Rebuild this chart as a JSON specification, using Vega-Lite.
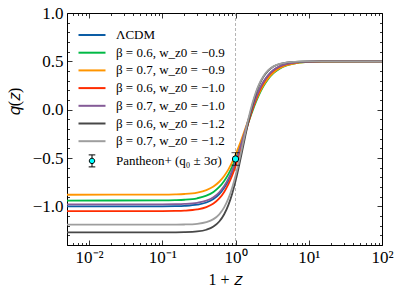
{
  "$schema": "https://vega.github.io/schema/vega-lite/v6.json",
  "width": 315,
  "height": 232,
  "autosize": {"type": "none"},
  "padding": {"left": 67, "top": 13, "right": 17, "bottom": 48},
  "background": "white",
  "config": {
    "view": {"stroke": "#000", "strokeWidth": 1},
    "font": "Liberation Serif",
    "axis": {"domain": false, "grid": false, "labelFont": "Liberation Serif", "labelFontSize": 17, "labelColor": "#000", "tickColor": "#000", "tickWidth": 0.8, "titleFont": "Liberation Serif", "titleFontSize": 16, "titleFontWeight": "normal", "titleColor": "#000", "labelFlush": false, "labelOverlap": false}
  },
  "datasets": {
    "curves": [
      {"x":0.005,"q":-1.0,"s":"LCDM"},{"x":0.1,"q":-0.9994,"s":"LCDM"},{"x":0.15,"q":-0.9978,"s":"LCDM"},{"x":0.2,"q":-0.9949,"s":"LCDM"},{"x":0.3,"q":-0.9828,"s":"LCDM"},{"x":0.4,"q":-0.96,"s":"LCDM"},{"x":0.5,"q":-0.9237,"s":"LCDM"},{"x":0.6,"q":-0.8729,"s":"LCDM"},{"x":0.7,"q":-0.8078,"s":"LCDM"},{"x":0.8,"q":-0.7301,"s":"LCDM"},{"x":0.9,"q":-0.6429,"s":"LCDM"},{"x":1.0,"q":-0.55,"s":"LCDM"},{"x":1.1,"q":-0.4551,"s":"LCDM"},{"x":1.2,"q":-0.3618,"s":"LCDM"},{"x":1.35,"q":-0.2301,"s":"LCDM"},{"x":1.5,"q":-0.1131,"s":"LCDM"},{"x":1.7,"q":0.017,"s":"LCDM"},{"x":1.9,"q":0.1193,"s":"LCDM"},{"x":2.1,"q":0.1981,"s":"LCDM"},{"x":2.4,"q":0.2834,"s":"LCDM"},{"x":2.8,"q":0.3559,"s":"LCDM"},{"x":3.3,"q":0.4085,"s":"LCDM"},{"x":4,"q":0.4472,"s":"LCDM"},{"x":5,"q":0.4725,"s":"LCDM"},{"x":6.5,"q":0.4874,"s":"LCDM"},{"x":9,"q":0.4952,"s":"LCDM"},{"x":15,"q":0.499,"s":"LCDM"},{"x":100,"q":0.5,"s":"LCDM"},
      {"x":0.005,"q":-0.94,"s":"b06w09"},{"x":0.1,"q":-0.9388,"s":"b06w09"},{"x":0.15,"q":-0.9363,"s":"b06w09"},{"x":0.2,"q":-0.932,"s":"b06w09"},{"x":0.3,"q":-0.9165,"s":"b06w09"},{"x":0.4,"q":-0.8898,"s":"b06w09"},{"x":0.5,"q":-0.851,"s":"b06w09"},{"x":0.6,"q":-0.7999,"s":"b06w09"},{"x":0.7,"q":-0.7376,"s":"b06w09"},{"x":0.8,"q":-0.6665,"s":"b06w09"},{"x":0.9,"q":-0.589,"s":"b06w09"},{"x":1.0,"q":-0.508,"s":"b06w09"},{"x":1.1,"q":-0.4264,"s":"b06w09"},{"x":1.2,"q":-0.3465,"s":"b06w09"},{"x":1.35,"q":-0.2334,"s":"b06w09"},{"x":1.5,"q":-0.1313,"s":"b06w09"},{"x":1.7,"q":-0.0152,"s":"b06w09"},{"x":1.9,"q":0.0797,"s":"b06w09"},{"x":2.1,"q":0.1552,"s":"b06w09"},{"x":2.4,"q":0.2408,"s":"b06w09"},{"x":2.8,"q":0.3179,"s":"b06w09"},{"x":3.3,"q":0.3776,"s":"b06w09"},{"x":4,"q":0.4246,"s":"b06w09"},{"x":5,"q":0.4577,"s":"b06w09"},{"x":6.5,"q":0.4789,"s":"b06w09"},{"x":9,"q":0.4911,"s":"b06w09"},{"x":15,"q":0.4978,"s":"b06w09"},{"x":100,"q":0.5,"s":"b06w09"},
      {"x":0.005,"q":-0.88,"s":"b07w09"},{"x":0.1,"q":-0.8788,"s":"b07w09"},{"x":0.15,"q":-0.8765,"s":"b07w09"},{"x":0.2,"q":-0.8724,"s":"b07w09"},{"x":0.3,"q":-0.8575,"s":"b07w09"},{"x":0.4,"q":-0.8319,"s":"b07w09"},{"x":0.5,"q":-0.7947,"s":"b07w09"},{"x":0.6,"q":-0.7457,"s":"b07w09"},{"x":0.7,"q":-0.6861,"s":"b07w09"},{"x":0.8,"q":-0.6179,"s":"b07w09"},{"x":0.9,"q":-0.5436,"s":"b07w09"},{"x":1.0,"q":-0.466,"s":"b07w09"},{"x":1.1,"q":-0.3878,"s":"b07w09"},{"x":1.2,"q":-0.3112,"s":"b07w09"},{"x":1.35,"q":-0.2029,"s":"b07w09"},{"x":1.5,"q":-0.105,"s":"b07w09"},{"x":1.7,"q":0.0063,"s":"b07w09"},{"x":1.9,"q":0.0972,"s":"b07w09"},{"x":2.1,"q":0.1695,"s":"b07w09"},{"x":2.4,"q":0.2516,"s":"b07w09"},{"x":2.8,"q":0.3255,"s":"b07w09"},{"x":3.3,"q":0.3827,"s":"b07w09"},{"x":4,"q":0.4278,"s":"b07w09"},{"x":5,"q":0.4595,"s":"b07w09"},{"x":6.5,"q":0.4797,"s":"b07w09"},{"x":9,"q":0.4915,"s":"b07w09"},{"x":15,"q":0.4979,"s":"b07w09"},{"x":100,"q":0.5,"s":"b07w09"},
      {"x":0.005,"q":-1.05,"s":"b06w10"},{"x":0.1,"q":-1.0493,"s":"b06w10"},{"x":0.15,"q":-1.0478,"s":"b06w10"},{"x":0.2,"q":-1.0447,"s":"b06w10"},{"x":0.3,"q":-1.0323,"s":"b06w10"},{"x":0.4,"q":-1.0086,"s":"b06w10"},{"x":0.5,"q":-0.9712,"s":"b06w10"},{"x":0.6,"q":-0.9187,"s":"b06w10"},{"x":0.7,"q":-0.8514,"s":"b06w10"},{"x":0.8,"q":-0.7711,"s":"b06w10"},{"x":0.9,"q":-0.681,"s":"b06w10"},{"x":1.0,"q":-0.585,"s":"b06w10"},{"x":1.1,"q":-0.487,"s":"b06w10"},{"x":1.2,"q":-0.3905,"s":"b06w10"},{"x":1.35,"q":-0.2544,"s":"b06w10"},{"x":1.5,"q":-0.1336,"s":"b06w10"},{"x":1.7,"q":0.0009,"s":"b06w10"},{"x":1.9,"q":0.1066,"s":"b06w10"},{"x":2.1,"q":0.1881,"s":"b06w10"},{"x":2.4,"q":0.2762,"s":"b06w10"},{"x":2.8,"q":0.3511,"s":"b06w10"},{"x":3.3,"q":0.4055,"s":"b06w10"},{"x":4,"q":0.4455,"s":"b06w10"},{"x":5,"q":0.4716,"s":"b06w10"},{"x":6.5,"q":0.4869,"s":"b06w10"},{"x":9,"q":0.4951,"s":"b06w10"},{"x":15,"q":0.4989,"s":"b06w10"},{"x":100,"q":0.5,"s":"b06w10"},
      {"x":0.005,"q":-0.98,"s":"b07w10"},{"x":0.1,"q":-0.9794,"s":"b07w10"},{"x":0.15,"q":-0.9779,"s":"b07w10"},{"x":0.2,"q":-0.9749,"s":"b07w10"},{"x":0.3,"q":-0.9631,"s":"b07w10"},{"x":0.4,"q":-0.9405,"s":"b07w10"},{"x":0.5,"q":-0.9048,"s":"b07w10"},{"x":0.6,"q":-0.8546,"s":"b07w10"},{"x":0.7,"q":-0.7903,"s":"b07w10"},{"x":0.8,"q":-0.7137,"s":"b07w10"},{"x":0.9,"q":-0.6277,"s":"b07w10"},{"x":1.0,"q":-0.536,"s":"b07w10"},{"x":1.1,"q":-0.4424,"s":"b07w10"},{"x":1.2,"q":-0.3503,"s":"b07w10"},{"x":1.35,"q":-0.2204,"s":"b07w10"},{"x":1.5,"q":-0.105,"s":"b07w10"},{"x":1.7,"q":0.0235,"s":"b07w10"},{"x":1.9,"q":0.1243,"s":"b07w10"},{"x":2.1,"q":0.2022,"s":"b07w10"},{"x":2.4,"q":0.2863,"s":"b07w10"},{"x":2.8,"q":0.3578,"s":"b07w10"},{"x":3.3,"q":0.4098,"s":"b07w10"},{"x":4,"q":0.4479,"s":"b07w10"},{"x":5,"q":0.4729,"s":"b07w10"},{"x":6.5,"q":0.4875,"s":"b07w10"},{"x":9,"q":0.4953,"s":"b07w10"},{"x":15,"q":0.499,"s":"b07w10"},{"x":100,"q":0.5,"s":"b07w10"},
      {"x":0.005,"q":-1.27,"s":"b06w12"},{"x":0.1,"q":-1.2698,"s":"b06w12"},{"x":0.15,"q":-1.2692,"s":"b06w12"},{"x":0.2,"q":-1.2677,"s":"b06w12"},{"x":0.3,"q":-1.2601,"s":"b06w12"},{"x":0.4,"q":-1.2424,"s":"b06w12"},{"x":0.5,"q":-1.2096,"s":"b06w12"},{"x":0.6,"q":-1.1573,"s":"b06w12"},{"x":0.7,"q":-1.0823,"s":"b06w12"},{"x":0.8,"q":-0.9852,"s":"b06w12"},{"x":0.9,"q":-0.8687,"s":"b06w12"},{"x":1.0,"q":-0.739,"s":"b06w12"},{"x":1.1,"q":-0.6036,"s":"b06w12"},{"x":1.2,"q":-0.4692,"s":"b06w12"},{"x":1.35,"q":-0.2825,"s":"b06w12"},{"x":1.5,"q":-0.1221,"s":"b06w12"},{"x":1.7,"q":0.0453,"s":"b06w12"},{"x":1.9,"q":0.1674,"s":"b06w12"},{"x":2.1,"q":0.2539,"s":"b06w12"},{"x":2.4,"q":0.3394,"s":"b06w12"},{"x":2.8,"q":0.4041,"s":"b06w12"},{"x":3.3,"q":0.4456,"s":"b06w12"},{"x":4,"q":0.4724,"s":"b06w12"},{"x":5,"q":0.4875,"s":"b06w12"},{"x":6.5,"q":0.4951,"s":"b06w12"},{"x":9,"q":0.4985,"s":"b06w12"},{"x":15,"q":0.4999,"s":"b06w12"},{"x":100,"q":0.5,"s":"b06w12"},
      {"x":0.005,"q":-1.19,"s":"b07w12"},{"x":0.1,"q":-1.1898,"s":"b07w12"},{"x":0.15,"q":-1.1892,"s":"b07w12"},{"x":0.2,"q":-1.1878,"s":"b07w12"},{"x":0.3,"q":-1.1806,"s":"b07w12"},{"x":0.4,"q":-1.1637,"s":"b07w12"},{"x":0.5,"q":-1.1323,"s":"b07w12"},{"x":0.6,"q":-1.0824,"s":"b07w12"},{"x":0.7,"q":-1.0108,"s":"b07w12"},{"x":0.8,"q":-0.918,"s":"b07w12"},{"x":0.9,"q":-0.8068,"s":"b07w12"},{"x":1.0,"q":-0.683,"s":"b07w12"},{"x":1.1,"q":-0.5537,"s":"b07w12"},{"x":1.2,"q":-0.4254,"s":"b07w12"},{"x":1.35,"q":-0.2471,"s":"b07w12"},{"x":1.5,"q":-0.094,"s":"b07w12"},{"x":1.7,"q":0.0659,"s":"b07w12"},{"x":1.9,"q":0.1825,"s":"b07w12"},{"x":2.1,"q":0.2651,"s":"b07w12"},{"x":2.4,"q":0.3466,"s":"b07w12"},{"x":2.8,"q":0.4084,"s":"b07w12"},{"x":3.3,"q":0.448,"s":"b07w12"},{"x":4,"q":0.4736,"s":"b07w12"},{"x":5,"q":0.4881,"s":"b07w12"},{"x":6.5,"q":0.4953,"s":"b07w12"},{"x":9,"q":0.4986,"s":"b07w12"},{"x":15,"q":0.4999,"s":"b07w12"},{"x":100,"q":0.5,"s":"b07w12"}
    ],
    "obs": [{"x": 1, "q0": -0.51, "lo": -0.575, "hi": -0.445}],
    "today": [{"x": 1}]
  },
  "layer": [
    {
      "data": {"name": "today"},
      "mark": {"type": "rule", "color": "#a0a0a0", "strokeWidth": 0.8, "strokeDash": [3, 2]},
      "encoding": {
        "x": {"field": "x", "type": "quantitative", "scale": {"type": "log", "domain": [0.005, 100], "nice": false},
          "axis": {"orient": "top", "title": null, "labels": false, "tickSize": -2.5,
            "values": [0.005,0.006,0.007,0.008,0.009,0.02,0.03,0.04,0.05,0.06,0.07,0.08,0.09,0.2,0.3,0.4,0.5,0.6,0.7,0.8,0.9,2,3,4,5,6,7,8,9,20,30,40,50,60,70,80,90]}}
      }
    },
    {
      "data": {"name": "curves"},
      "mark": {"type": "line", "strokeWidth": 1.8, "interpolate": "monotone"},
      "encoding": {
        "x": {"field": "x", "type": "quantitative", "scale": {"type": "log", "domain": [0.005, 100], "nice": false},
          "axis": {"orient": "bottom", "title": "1 + 𝑧", "titleBaseline": "middle", "titleY": 34, "ticks": false,
            "values": [0.01, 0.1, 1, 10, 100], "labelPadding": 4,
            "labelExpr": "datum.value == 0.01 ? '10⁻²' : datum.value == 0.1 ? '10⁻¹' : datum.value == 1 ? '10⁰' : datum.value == 10 ? '10¹' : '10²'"}},
        "y": {"field": "q", "type": "quantitative", "scale": {"domain": [-1.4, 1.0], "nice": false, "zero": false},
          "axis": {"orient": "left", "title": "𝑞(𝑧)", "titleAngle": -90, "titleAlign": "center", "titleBaseline": "middle", "titleX": -53, "titleY": 88, "ticks": false,
            "values": [-1.0, -0.5, 0, 0.5, 1.0], "labelPadding": 4,
            "labelExpr": "replace(format(datum.value, '.1f'), '-', '−')"}},
        "color": {"field": "s", "type": "nominal",
          "scale": {"domain": ["LCDM","b06w09","b07w09","b06w10","b07w10","b06w12","b07w12","Pantheon"],
                    "range": ["#0C5DA5","#00B945","#FF9500","#FF2C00","#845B97","#474747","#9E9E9E","#000000"]},
          "legend": {"orient": "none", "legendX": 18.5, "legendY": 15.5, "title": null, "padding": 0,
            "labelFont": "Liberation Serif", "labelFontSize": 13, "labelColor": "#000",
            "symbolSize": 144, "symbolStrokeWidth": 2, "rowPadding": 3.7, "labelOffset": 17.5,
            "labelExpr": "datum.value == 'LCDM' ? 'ΛCDM' : datum.value == 'b06w09' ? 'β = 0.6, w_z0 = −0.9' : datum.value == 'b07w09' ? 'β = 0.7, w_z0 = −0.9' : datum.value == 'b06w10' ? 'β = 0.6, w_z0 = −1.0' : datum.value == 'b07w10' ? 'β = 0.7, w_z0 = −1.0' : datum.value == 'b06w12' ? 'β = 0.6, w_z0 = −1.2' : datum.value == 'b07w12' ? 'β = 0.7, w_z0 = −1.2' : 'Pantheon+ (q₀ ± 3σ)'",
            "encode": {"symbols": {"update": {
              "shape": {"signal": "datum.value == 'Pantheon' ? 'M0,-1V-0.45M0,0.45V1M-0.55,-1H0.55M-0.55,1H0.55M0.45,0A0.45,0.45,0,1,1,-0.45,0A0.45,0.45,0,1,1,0.45,0Z' : 'stroke'"},
              "size": {"signal": "datum.value == 'Pantheon' ? 144 : 729"},
              "fill": {"signal": "datum.value == 'Pantheon' ? '#00FFFF' : 'transparent'"},
              "strokeWidth": {"signal": "datum.value == 'Pantheon' ? 1 : 2"},
              "opacity": {"value": 1}
            }}}
          }}
      }
    },
    {
      "data": {"name": "obs"},
      "mark": {"type": "rule", "color": "#000", "strokeWidth": 1},
      "encoding": {
        "x": {"field": "x", "type": "quantitative", "scale": {"type": "log", "domain": [0.005, 100], "nice": false},
          "axis": {"orient": "bottom", "title": null, "labels": false, "tickSize": -5, "values": [0.01, 0.1, 1, 10, 100]}},
        "y": {"field": "lo", "type": "quantitative", "scale": {"domain": [-1.4, 1.0], "nice": false, "zero": false},
          "axis": {"orient": "left", "title": null, "labels": false, "tickSize": -5, "values": [-1.0, -0.5, 0, 0.5, 1.0]}},
        "y2": {"field": "hi"}
      }
    },
    {
      "data": {"name": "obs"},
      "mark": {"type": "tick", "orient": "horizontal", "color": "#000", "size": 8, "thickness": 1},
      "encoding": {
        "x": {"field": "x", "type": "quantitative", "scale": {"type": "log", "domain": [0.005, 100], "nice": false},
          "axis": {"orient": "bottom", "title": null, "labels": false, "tickSize": -2.5,
            "values": [0.005,0.006,0.007,0.008,0.009,0.02,0.03,0.04,0.05,0.06,0.07,0.08,0.09,0.2,0.3,0.4,0.5,0.6,0.7,0.8,0.9,2,3,4,5,6,7,8,9,20,30,40,50,60,70,80,90]}},
        "y": {"field": "lo", "type": "quantitative", "scale": {"domain": [-1.4, 1.0], "nice": false, "zero": false},
          "axis": {"orient": "left", "title": null, "labels": false, "tickSize": -2.5,
            "values": [-1.4,-1.3,-1.2,-1.1,-0.9,-0.8,-0.7,-0.6,-0.4,-0.3,-0.2,-0.1,0.1,0.2,0.3,0.4,0.6,0.7,0.8,0.9]}}
      }
    },
    {
      "data": {"name": "obs"},
      "mark": {"type": "tick", "orient": "horizontal", "color": "#000", "size": 8, "thickness": 1},
      "encoding": {
        "x": {"field": "x", "type": "quantitative", "scale": {"type": "log", "domain": [0.005, 100], "nice": false},
          "axis": {"orient": "top", "title": null, "labels": false, "tickSize": -5, "values": [0.01, 0.1, 1, 10, 100]}},
        "y": {"field": "hi", "type": "quantitative", "scale": {"domain": [-1.4, 1.0], "nice": false, "zero": false},
          "axis": {"orient": "right", "title": null, "labels": false, "tickSize": -5, "values": [-1.0, -0.5, 0, 0.5, 1.0]}}
      }
    },
    {
      "data": {"name": "obs"},
      "mark": {"type": "circle", "fill": "#00FFFF", "stroke": "#000", "strokeWidth": 1, "size": 40, "opacity": 1},
      "encoding": {
        "x": {"field": "x", "type": "quantitative", "scale": {"type": "log", "domain": [0.005, 100], "nice": false}, "axis": null},
        "y": {"field": "q0", "type": "quantitative", "scale": {"domain": [-1.4, 1.0], "nice": false, "zero": false},
          "axis": {"orient": "right", "title": null, "labels": false, "tickSize": -2.5,
            "values": [-1.4,-1.3,-1.2,-1.1,-0.9,-0.8,-0.7,-0.6,-0.4,-0.3,-0.2,-0.1,0.1,0.2,0.3,0.4,0.6,0.7,0.8,0.9]}}
      }
    }
  ],
  "resolve": {"axis": {"x": "independent", "y": "independent"}}
}
